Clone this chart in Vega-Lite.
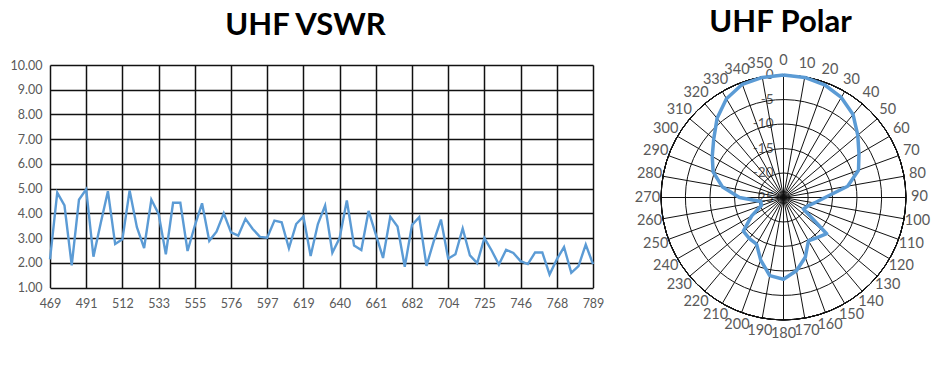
{
  "$schema": "https://vega.github.io/schema/vega-lite/v6.json",
  "background": "white",
  "padding": {"left": 10, "top": 7, "right": 0, "bottom": 0},
  "bounds": "flush",
  "spacing": 58,
  "config": {"view": {"stroke": null}, "font": "Lato"},
  "hconcat": [
    {
      "width": 543,
      "height": 222.6,
      "title": {"text": "UHF VSWR", "font": "Lato", "fontSize": 31, "fontWeight": "bold", "color": "#000000", "offset": 17.2, "dx": -16},
      "data": {"values": [
        {"freq": 469.00, "vswr": 2.14}, {"freq": 473.27, "vswr": 4.84}, {"freq": 477.53, "vswr": 4.32}, {"freq": 481.80, "vswr": 1.90},
        {"freq": 486.07, "vswr": 4.55}, {"freq": 490.33, "vswr": 4.97}, {"freq": 494.60, "vswr": 2.25}, {"freq": 498.87, "vswr": 3.60},
        {"freq": 503.13, "vswr": 4.90}, {"freq": 507.40, "vswr": 2.76}, {"freq": 511.67, "vswr": 2.95}, {"freq": 515.93, "vswr": 4.93},
        {"freq": 520.20, "vswr": 3.44}, {"freq": 524.47, "vswr": 2.60}, {"freq": 528.73, "vswr": 4.56}, {"freq": 533.00, "vswr": 3.98},
        {"freq": 537.27, "vswr": 2.35}, {"freq": 541.53, "vswr": 4.43}, {"freq": 545.80, "vswr": 4.43}, {"freq": 550.07, "vswr": 2.48},
        {"freq": 554.33, "vswr": 3.50}, {"freq": 558.60, "vswr": 4.41}, {"freq": 562.87, "vswr": 2.89}, {"freq": 567.13, "vswr": 3.26},
        {"freq": 571.40, "vswr": 4.00}, {"freq": 575.67, "vswr": 3.23}, {"freq": 579.93, "vswr": 3.10}, {"freq": 584.20, "vswr": 3.78},
        {"freq": 588.47, "vswr": 3.37}, {"freq": 592.73, "vswr": 3.05}, {"freq": 597.00, "vswr": 3.02}, {"freq": 601.27, "vswr": 3.71},
        {"freq": 605.53, "vswr": 3.64}, {"freq": 609.80, "vswr": 2.59}, {"freq": 614.07, "vswr": 3.57}, {"freq": 618.33, "vswr": 3.87},
        {"freq": 622.60, "vswr": 2.28}, {"freq": 626.87, "vswr": 3.57}, {"freq": 631.13, "vswr": 4.32}, {"freq": 635.40, "vswr": 2.41},
        {"freq": 639.67, "vswr": 3.00}, {"freq": 643.93, "vswr": 4.52}, {"freq": 648.20, "vswr": 2.70}, {"freq": 652.47, "vswr": 2.52},
        {"freq": 656.73, "vswr": 4.10}, {"freq": 661.00, "vswr": 3.15}, {"freq": 665.27, "vswr": 2.20}, {"freq": 669.53, "vswr": 3.87},
        {"freq": 673.80, "vswr": 3.47}, {"freq": 678.07, "vswr": 1.84}, {"freq": 682.33, "vswr": 3.53}, {"freq": 686.60, "vswr": 3.85},
        {"freq": 690.87, "vswr": 1.88}, {"freq": 695.13, "vswr": 2.87}, {"freq": 699.40, "vswr": 3.75}, {"freq": 703.67, "vswr": 2.17},
        {"freq": 707.93, "vswr": 2.35}, {"freq": 712.20, "vswr": 3.39}, {"freq": 716.47, "vswr": 2.30}, {"freq": 720.73, "vswr": 1.99},
        {"freq": 725.00, "vswr": 3.00}, {"freq": 729.27, "vswr": 2.50}, {"freq": 733.53, "vswr": 1.93}, {"freq": 737.80, "vswr": 2.53},
        {"freq": 742.07, "vswr": 2.40}, {"freq": 746.33, "vswr": 2.07}, {"freq": 750.60, "vswr": 1.95}, {"freq": 754.87, "vswr": 2.42},
        {"freq": 759.13, "vswr": 2.42}, {"freq": 763.40, "vswr": 1.53}, {"freq": 767.67, "vswr": 2.14}, {"freq": 771.93, "vswr": 2.64},
        {"freq": 776.20, "vswr": 1.60}, {"freq": 780.47, "vswr": 1.87}, {"freq": 784.73, "vswr": 2.74}, {"freq": 789.00, "vswr": 1.95}
      ]},
      "mark": {"type": "line", "color": "#5B9BD5", "strokeWidth": 2.4},
      "encoding": {
        "x": {
          "field": "freq", "type": "quantitative",
          "scale": {"domain": [469, 789], "nice": false, "zero": false},
          "axis": {
            "title": null,
            "values": [469, 490.3333, 511.6667, 533, 554.3333, 575.6667, 597, 618.3333, 639.6667, 661, 682.3333, 703.6667, 725, 746.3333, 767.6667, 789],
            "labelExpr": "['469','491','512','533','555','576','597','619','640','661','682','704','725','746','768','789'][round((datum.value-469)/21.33333)]",
            "grid": true, "gridColor": "#111111", "gridWidth": 1.5, "gridOpacity": 1,
            "domain": false, "ticks": false,
            "labelFont": "Lato", "labelFontSize": 12.5, "labelColor": "#595959", "labelPadding": 10, "labelFlush": false
          }
        },
        "y": {
          "field": "vswr", "type": "quantitative",
          "scale": {"domain": [1, 10], "nice": false, "zero": false},
          "axis": {
            "title": null,
            "values": [1, 2, 3, 4, 5, 6, 7, 8, 9, 10],
            "format": ".2f",
            "grid": true, "gridColor": "#111111", "gridWidth": 1.5, "gridOpacity": 1,
            "domain": false, "ticks": false,
            "labelFont": "Lato", "labelFontSize": 12.5, "labelColor": "#595959", "labelPadding": 8
          }
        }
      }
    },
    {
      "width": 265,
      "height": 265,
      "title": {"text": "UHF Polar", "font": "Lato", "fontSize": 31, "fontWeight": "bold", "color": "#000000", "offset": 14.2, "dx": -3},
      "layer": [
        {
          "data": {"values": [
            {"db": 0, "label": "0"}, {"db": -5, "label": "-5"}, {"db": -10, "label": "-10"},
            {"db": -15, "label": "-15"}, {"db": -20, "label": "-20"}, {"db": -25, "label": "-25"}
          ]},
          "mark": {"type": "text", "align": "right", "baseline": "middle", "dx": -10, "font": "Lato", "fontSize": 13.5, "color": "#595959"},
          "encoding": {
            "theta": {"datum": 0, "type": "quantitative", "stack": null, "scale": {"type": "linear", "domain": [0, 360], "range": [0, 6.283185]}},
            "radius": {"field": "db", "type": "quantitative", "stack": null, "scale": {"type": "linear", "domain": [-25, 2.06], "range": [0, 132.5], "zero": false}},
            "text": {"field": "label"}
          }
        },
        {
          "data": {"values": [{"db": -20}, {"db": -15}, {"db": -10}, {"db": -5}, {"db": 0}]},
          "mark": {"type": "arc", "theta": 0, "theta2": 6.3, "fillOpacity": 0, "stroke": "#111111", "strokeWidth": 1},
          "encoding": {
            "radius": {"field": "db", "type": "quantitative", "stack": null}
          }
        },
        {
          "data": {"values": [
            {"angle": 0}, {"angle": 10}, {"angle": 20}, {"angle": 30}, {"angle": 40}, {"angle": 50},
            {"angle": 60}, {"angle": 70}, {"angle": 80}, {"angle": 90}, {"angle": 100}, {"angle": 110},
            {"angle": 120}, {"angle": 130}, {"angle": 140}, {"angle": 150}, {"angle": 160}, {"angle": 170},
            {"angle": 180}, {"angle": 190}, {"angle": 200}, {"angle": 210}, {"angle": 220}, {"angle": 230},
            {"angle": 240}, {"angle": 250}, {"angle": 260}, {"angle": 270}, {"angle": 280}, {"angle": 290},
            {"angle": 300}, {"angle": 310}, {"angle": 320}, {"angle": 330}, {"angle": 340}, {"angle": 350}
          ]},
          "transform": [
            {"calculate": "25 * sin(datum.angle * PI / 180)", "as": "sx"},
            {"calculate": "25 * cos(datum.angle * PI / 180)", "as": "sy"}
          ],
          "mark": {"type": "rule", "color": "#111111", "strokeWidth": 1},
          "encoding": {
            "x": {"field": "sx", "type": "quantitative", "scale": {"domain": [-27.06, 27.06], "nice": false, "zero": false}, "axis": null},
            "y": {"field": "sy", "type": "quantitative", "scale": {"domain": [-27.06, 27.06], "nice": false, "zero": false}, "axis": null},
            "x2": {"datum": 0},
            "y2": {"datum": 0}
          }
        },
        {
          "data": {"values": [
            {"angle": 0, "db": 0}, {"angle": 10, "db": -0.1}, {"angle": 20, "db": -0.5}, {"angle": 30, "db": -1.4},
            {"angle": 40, "db": -2.9}, {"angle": 50, "db": -5.2}, {"angle": 60, "db": -7.2}, {"angle": 70, "db": -8.7},
            {"angle": 80, "db": -11.7}, {"angle": 90, "db": -16.5}, {"angle": 100, "db": -18.6}, {"angle": 110, "db": -19.8},
            {"angle": 120, "db": -20.3}, {"angle": 130, "db": -13.5}, {"angle": 140, "db": -14.3}, {"angle": 150, "db": -14.8},
            {"angle": 160, "db": -12.0}, {"angle": 170, "db": -9.8}, {"angle": 180, "db": -8.3}, {"angle": 190, "db": -8.8},
            {"angle": 200, "db": -11.4}, {"angle": 210, "db": -14.0}, {"angle": 220, "db": -14.1}, {"angle": 230, "db": -14.3},
            {"angle": 240, "db": -17.5}, {"angle": 250, "db": -20.2}, {"angle": 260, "db": -20.3}, {"angle": 270, "db": -16.0},
            {"angle": 280, "db": -12.3}, {"angle": 290, "db": -9.7}, {"angle": 300, "db": -8.2}, {"angle": 310, "db": -6.4},
            {"angle": 320, "db": -3.9}, {"angle": 330, "db": -1.7}, {"angle": 340, "db": -0.4}, {"angle": 350, "db": -0.1},
            {"angle": 360, "db": 0}
          ]},
          "transform": [
            {"calculate": "(datum.db + 25) * sin(datum.angle * PI / 180)", "as": "px"},
            {"calculate": "(datum.db + 25) * cos(datum.angle * PI / 180)", "as": "py"}
          ],
          "mark": {"type": "line", "color": "#5B9BD5", "strokeWidth": 3.5, "strokeJoin": "round"},
          "encoding": {
            "x": {"field": "px", "type": "quantitative"},
            "y": {"field": "py", "type": "quantitative"},
            "order": {"field": "angle", "type": "quantitative"}
          }
        },
        {
          "data": {"values": [
            {"angle": 0}, {"angle": 10}, {"angle": 20}, {"angle": 30}, {"angle": 40}, {"angle": 50},
            {"angle": 60}, {"angle": 70}, {"angle": 80}, {"angle": 90}, {"angle": 100}, {"angle": 110},
            {"angle": 120}, {"angle": 130}, {"angle": 140}, {"angle": 150}, {"angle": 160}, {"angle": 170},
            {"angle": 180}, {"angle": 190}, {"angle": 200}, {"angle": 210}, {"angle": 220}, {"angle": 230},
            {"angle": 240}, {"angle": 250}, {"angle": 260}, {"angle": 270}, {"angle": 280}, {"angle": 290},
            {"angle": 300}, {"angle": 310}, {"angle": 320}, {"angle": 330}, {"angle": 340}, {"angle": 350}
          ]},
          "mark": {"type": "text", "align": "center", "baseline": "middle", "font": "Lato", "fontSize": 14.5, "color": "#595959"},
          "encoding": {
            "theta": {"field": "angle", "type": "quantitative", "stack": null},
            "radius": {"datum": 2.78, "type": "quantitative"},
            "text": {"field": "angle", "type": "quantitative"}
          }
        }
      ]
    }
  ]
}
